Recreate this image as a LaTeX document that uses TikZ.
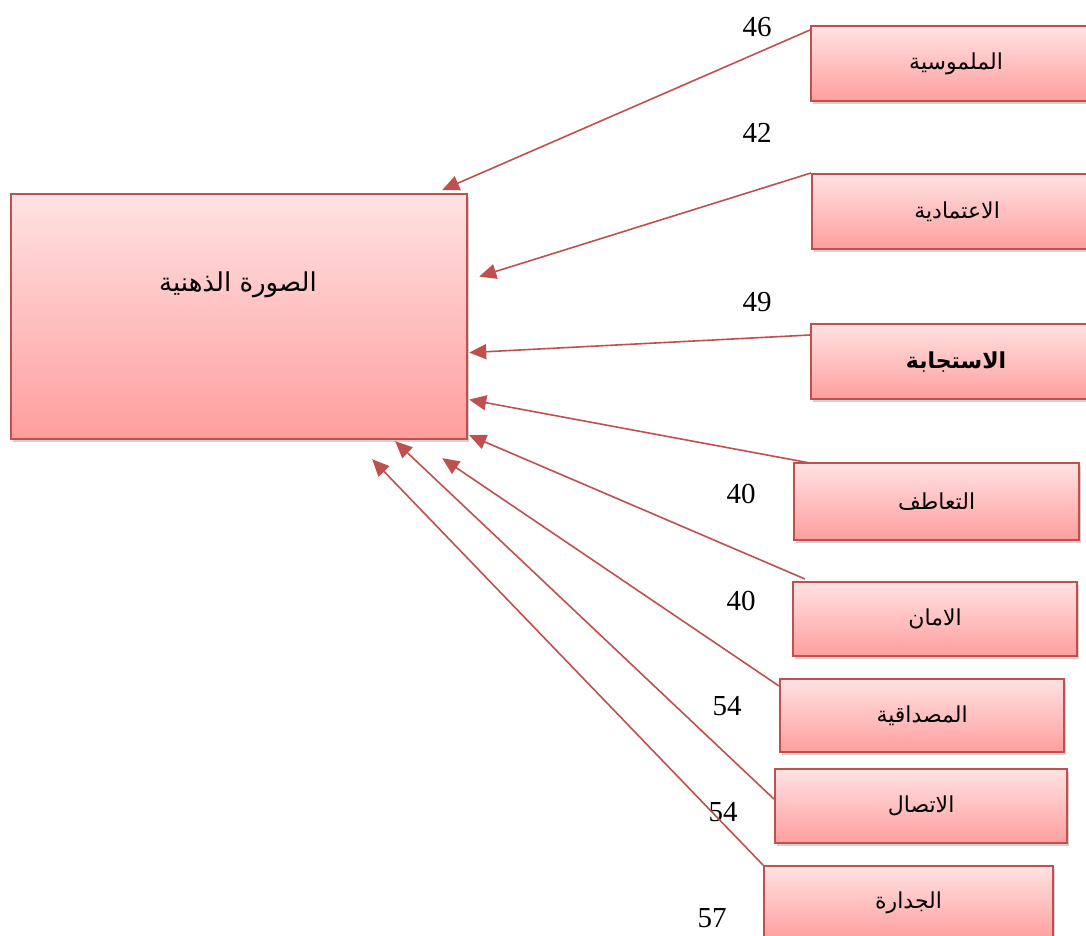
\documentclass[tikz,border=0pt]{standalone}
\usepackage{fontspec}
\setmainfont{Liberation Serif}
\newfontfamily\arabicfont[Script=Arabic]{DejaVu Sans}
\TeXXeTstate=1
\usetikzlibrary{calc, arrows.meta, shadows}
\definecolor{boxred}{RGB}{192,80,77}
\definecolor{boxtop}{RGB}{255,226,226}
\definecolor{boxbot}{RGB}{255,158,158}

\begin{document}
\begin{tikzpicture}[
    x=1pt, y=-1pt,
    % Styles
    factor/.style={draw=boxred, line width=2.2pt, top color=boxtop,
        bottom color=boxbot, anchor=north west, inner sep=0pt,
        minimum width=290pt, minimum height=75pt,
        drop shadow={shadow xshift=2pt, shadow yshift=-3pt,
            opacity=0.3, fill=black!60},
        font=\fontsize{22}{26}\arabicfont},
    image/.style={factor, minimum width=456pt, minimum height=245pt},
    title/.style={font=\fontsize{26}{30}\arabicfont},
    num/.style={font=\fontsize{29}{30}\selectfont, inner sep=0pt},
    arr/.style={-{Triangle[length=17pt,width=15pt]}, draw=boxred,
        line width=1.6pt},
]
\useasboundingbox (0,0) rectangle (1086,936);

% ===== Left: the mental image =====
\node[image] (img) at (10,193) {};
\node[title] (imgtitle) at (238,285) {\beginR الصورة الذهنية\endR};

% ===== Right column: factors =====
\node[factor] (tang) at (810,25) {\beginR الملموسية\endR};
\node[factor] (reli) at (811,173) {\beginR الاعتمادية\endR};
\node[factor, font=\fontsize{22}{26}\arabicfont\bfseries] (resp) at (810,323)
    {\beginR الاستجابة\endR};
\node[factor, minimum width=285pt, minimum height=77pt] (empa) at (793,462)
    {\beginR التعاطف\endR};
\node[factor, minimum width=284pt, minimum height=74pt] (secu) at (792,581)
    {\beginR الامان\endR};
\node[factor, minimum width=284pt, minimum height=73pt] (cred) at (779,678)
    {\beginR المصداقية\endR};
\node[factor, minimum width=292pt, minimum height=74pt] (comm) at (774,768)
    {\beginR الاتصال\endR};
\node[factor, minimum width=289pt, minimum height=74pt] (comp) at (763,865)
    {\beginR الجدارة\endR};

% ===== Values =====
\node[num] (vtang) at (757,27) {46};
\node[num] (vreli) at (757,133) {42};
\node[num] (vresp) at (757,302) {49};
\node[num] (vempa) at (741,494) {40};
\node[num] (vsecu) at (741,601) {40};
\node[num] (vcred) at (727,706) {54};
\node[num] (vcomm) at (723,812) {54};
\node[num] (vcomp) at (712,918) {57};

% ===== Arrows to the mental image =====
\draw[arr] ($(tang.north west)+(0,5)$) -- ($(img.north east)+(-26,-3)$);
\draw[arr] (reli.north west) -- ($(img.east)+(11,-40)$);
\draw[arr] ($(resp.north west)+(0,12)$) -- ($(img.east)+(1,36)$);
\draw[arr] ($(empa.north west)+(17,1)$) -- ($(img.east)+(1,83)$);
\draw[arr] ($(secu.north west)+(13,-2)$) -- ($(img.south east)+(1,-5)$);
\draw[arr] ($(cred.north west)+(0,8)$) -- ($(img.south east)+(-26,18)$);
\draw[arr] ($(comm.west)+(0,-7)$) -- ($(img.south east)+(-73,1)$);
\draw[arr] (comp.north west) -- ($(img.south east)+(-96,19)$);

\end{tikzpicture}
\end{document}
